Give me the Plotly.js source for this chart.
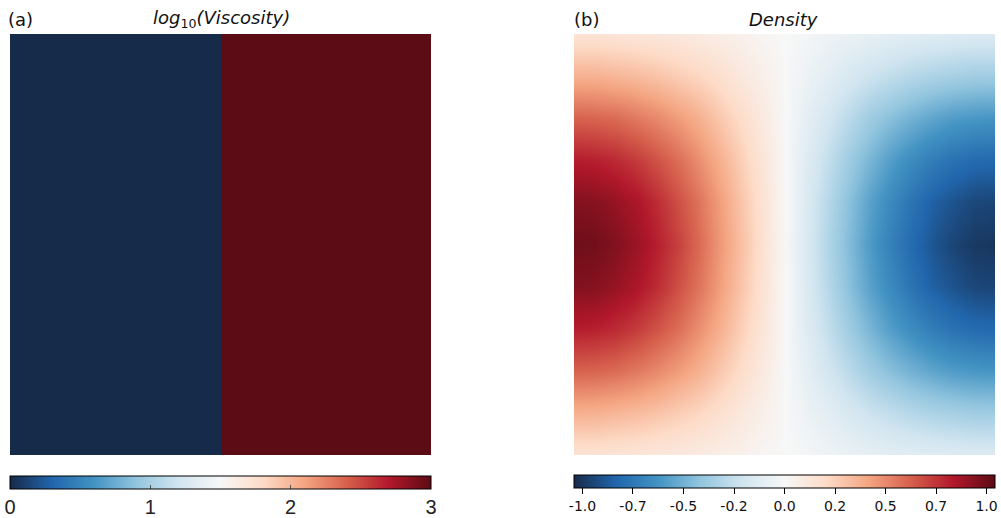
<!DOCTYPE html>
<html>
<head>
<meta charset="utf-8">
<script src="https://cdn.plot.ly/plotly-3.0.1.min.js"></script>
<style>
  html, body { margin: 0; padding: 0; background: #ffffff; }
  #chart { width: 1001px; height: 518px; }
</style>
</head>
<body>
<div id="chart"></div>
<script>
// Panel (a): log10 of viscosity, a step across the middle of the box
const viscX = [0.25, 0.75];
const viscY = [0.25, 0.75];
const logViscosity = [
  [0, 3],
  [0, 3]
];
const viscTicks = [0, 1, 2, 3];
const viscTickText = ['0', '1', '2', '3'];

// Panel (b): density field sampled on a regular grid (rows top to bottom)
const densX = [0.00, 0.05, 0.10, 0.15, 0.20, 0.25, 0.30, 0.35, 0.40, 0.45, 0.50,
               0.55, 0.60, 0.65, 0.70, 0.75, 0.80, 0.85, 0.90, 0.95, 1.00];
const densY = [1.0, 0.9, 0.8, 0.7, 0.6, 0.5, 0.4, 0.3, 0.2, 0.1, 0.0];
const density = [
  [0.15, 0.15, 0.14, 0.13, 0.12, 0.11, 0.09, 0.07, 0.05, 0.02, 0.00, -0.02, -0.05, -0.07, -0.09, -0.11, -0.12, -0.13, -0.14, -0.15, -0.15],
  [0.37, 0.37, 0.35, 0.33, 0.30, 0.26, 0.22, 0.17, 0.11, 0.06, 0.00, -0.06, -0.11, -0.17, -0.22, -0.26, -0.30, -0.33, -0.35, -0.37, -0.37],
  [0.62, 0.61, 0.59, 0.55, 0.50, 0.44, 0.37, 0.28, 0.19, 0.10, 0.00, -0.10, -0.19, -0.28, -0.37, -0.44, -0.50, -0.55, -0.59, -0.61, -0.62],
  [0.82, 0.81, 0.78, 0.73, 0.66, 0.58, 0.48, 0.37, 0.25, 0.13, 0.00, -0.13, -0.25, -0.37, -0.48, -0.58, -0.66, -0.73, -0.78, -0.81, -0.82],
  [0.95, 0.94, 0.90, 0.85, 0.77, 0.67, 0.56, 0.43, 0.29, 0.15, 0.00, -0.15, -0.29, -0.43, -0.56, -0.67, -0.77, -0.85, -0.90, -0.94, -0.95],
  [1.00, 0.99, 0.95, 0.89, 0.81, 0.71, 0.59, 0.45, 0.31, 0.16, 0.00, -0.16, -0.31, -0.45, -0.59, -0.71, -0.81, -0.89, -0.95, -0.99, -1.00],
  [0.95, 0.94, 0.90, 0.85, 0.77, 0.67, 0.56, 0.43, 0.29, 0.15, 0.00, -0.15, -0.29, -0.43, -0.56, -0.67, -0.77, -0.85, -0.90, -0.94, -0.95],
  [0.82, 0.81, 0.78, 0.73, 0.66, 0.58, 0.48, 0.37, 0.25, 0.13, 0.00, -0.13, -0.25, -0.37, -0.48, -0.58, -0.66, -0.73, -0.78, -0.81, -0.82],
  [0.62, 0.61, 0.59, 0.55, 0.50, 0.44, 0.37, 0.28, 0.19, 0.10, 0.00, -0.10, -0.19, -0.28, -0.37, -0.44, -0.50, -0.55, -0.59, -0.61, -0.62],
  [0.37, 0.37, 0.35, 0.33, 0.30, 0.26, 0.22, 0.17, 0.11, 0.06, 0.00, -0.06, -0.11, -0.17, -0.22, -0.26, -0.30, -0.33, -0.35, -0.37, -0.37],
  [0.15, 0.15, 0.14, 0.13, 0.12, 0.11, 0.09, 0.07, 0.05, 0.02, 0.00, -0.02, -0.05, -0.07, -0.09, -0.11, -0.12, -0.13, -0.14, -0.15, -0.15]
];
const densTicks = [-1, -0.75, -0.5, -0.25, 0, 0.25, 0.5, 0.75, 1];
const densTickText = ['-1.0', '-0.7', '-0.5', '-0.2', '0.0', '0.2', '0.5', '0.7', '1.0'];
const densLimit = 1.042;

// Diverging blue-white-red scale
const rdbu = [
  [0.0, 'rgb(22,42,74)'],
  [0.1, 'rgb(33,102,172)'],
  [0.2, 'rgb(67,147,195)'],
  [0.3, 'rgb(146,197,222)'],
  [0.4, 'rgb(209,229,240)'],
  [0.5, 'rgb(247,247,247)'],
  [0.6, 'rgb(253,219,199)'],
  [0.7, 'rgb(244,165,130)'],
  [0.8, 'rgb(214,96,77)'],
  [0.9, 'rgb(178,24,43)'],
  [1.0, 'rgb(92,12,20)']
];

// Plot-area geometry in pixels
const W = 1001, H = 518;
const M = { l: 10, r: 6, t: 34, b: 63, autoexpand: false };
const plotW = W - M.l - M.r;        // 985
const plotH = H - M.t - M.b;        // 421
const panel = 421;
const gapLeftB = 574 - M.l;         // left edge of panel (b) inside plot area
const domA = [0, panel / plotW];
const domB = [gapLeftB / plotW, (gapLeftB + panel) / plotW];
const py = (pix) => (H - M.b - pix) / plotH;   // pixel row -> paper y

const traces = [
  {
    type: 'heatmap',
    x: viscX, y: viscY, z: logViscosity,
    xaxis: 'x', yaxis: 'y',
    colorscale: rdbu, zmin: 0, zmax: 3,
    hoverinfo: 'skip',
    colorbar: {
      orientation: 'h',
      x: (domA[0] + domA[1]) / 2, xanchor: 'center',
      y: py(476), yanchor: 'top',
      len: panel / plotW, lenmode: 'fraction',
      thickness: 13, thicknessmode: 'pixels',
      xpad: 0, ypad: 0,
      outlinewidth: 1, outlinecolor: '#000000',
      tickmode: 'array', tickvals: viscTicks, ticktext: viscTickText,
      ticks: 'inside', ticklen: 4, tickwidth: 1, tickcolor: '#555555',
      tickfont: { family: 'Liberation Sans, Arial, sans-serif', size: 20, color: '#222222' }
    }
  },
  {
    type: 'heatmap',
    x: densX, y: densY, z: density,
    xaxis: 'x2', yaxis: 'y',
    colorscale: rdbu, zmin: -densLimit, zmax: densLimit,
    zsmooth: 'best',
    hoverinfo: 'skip',
    colorbar: {
      orientation: 'h',
      x: (domB[0] + domB[1]) / 2, xanchor: 'center',
      y: py(475), yanchor: 'top',
      len: panel / plotW, lenmode: 'fraction',
      thickness: 13, thicknessmode: 'pixels',
      xpad: 0, ypad: 0,
      outlinewidth: 1, outlinecolor: '#000000',
      tickmode: 'array', tickvals: densTicks, ticktext: densTickText,
      ticks: 'outside', ticklen: 6, tickwidth: 1, tickcolor: '#000000',
      tickfont: { family: 'DejaVu Sans, sans-serif', size: 14, color: '#111111' }
    }
  }
];

const hiddenAxis = (dom) => ({
  domain: dom, range: [0, 1], visible: false,
  showgrid: false, zeroline: false, fixedrange: true
});

const titleFont = { family: 'DejaVu Sans, sans-serif', size: 18, color: '#111111' };

const layout = {
  width: W, height: H,
  margin: M,
  paper_bgcolor: '#ffffff',
  plot_bgcolor: '#ffffff',
  showlegend: false,
  xaxis: hiddenAxis(domA),
  xaxis2: hiddenAxis(domB),
  yaxis: { domain: [0, 1], range: [0, 1], visible: false, showgrid: false, zeroline: false, fixedrange: true },
  annotations: [
    { text: '(a)', xref: 'paper', yref: 'paper', x: (6 - M.l) / plotW, y: py(19),
      xanchor: 'left', yanchor: 'middle', showarrow: false, font: titleFont },
    { text: '<i>log</i><sub>10</sub><i>(Viscosity)</i>', xref: 'paper', yref: 'paper',
      x: (221 - M.l) / plotW, y: py(19),
      xanchor: 'center', yanchor: 'middle', showarrow: false, font: titleFont },
    { text: '(b)', xref: 'paper', yref: 'paper', x: (572 - M.l) / plotW, y: py(19),
      xanchor: 'left', yanchor: 'middle', showarrow: false, font: titleFont },
    { text: '<i>Density</i>', xref: 'paper', yref: 'paper', x: (783 - M.l) / plotW, y: py(19),
      xanchor: 'center', yanchor: 'middle', showarrow: false, font: titleFont }
  ]
};

Plotly.newPlot('chart', traces, layout, { displayModeBar: false, staticPlot: true });
</script>
</body>
</html>
